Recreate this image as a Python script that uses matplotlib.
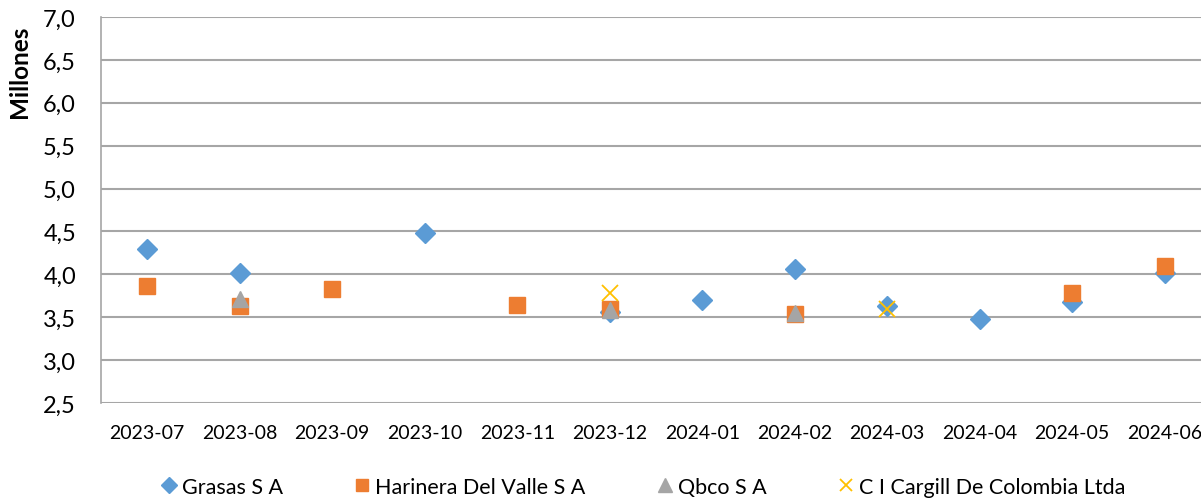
import numpy as np
import matplotlib
matplotlib.use("Agg")
import matplotlib.pyplot as plt

months = ["2023-07", "2023-08", "2023-09", "2023-10", "2023-11", "2023-12",
          "2024-01", "2024-02", "2024-03", "2024-04", "2024-05", "2024-06"]
nan = np.nan
grasas = [4.29, 4.02, nan, 4.48, nan, 3.56, 3.70, 4.06, 3.63, 3.48, 3.68, 4.02]
harinera = [3.86, 3.63, 3.83, nan, 3.64, 3.60, nan, 3.54, nan, nan, 3.78, 4.10]
qbco = [nan, 3.71, nan, nan, nan, 3.58, nan, 3.55, nan, nan, nan, nan]
cargill = [nan, nan, nan, nan, nan, 3.78, nan, nan, 3.60, nan, nan, nan]
series_names = ["Grasas S A", "Harinera Del Valle S A", "Qbco S A",
                "C I Cargill De Colombia Ltda"]
yticks = [2.5, 3.0, 3.5, 4.0, 4.5, 5.0, 5.5, 6.0, 6.5, 7.0]

plt.rcParams['font.family'] = ['Lato', 'DejaVu Sans']

fig = plt.figure(figsize=(12.01, 5.02), dpi=100)
ax = fig.add_axes([101/1201, 1-404/502, 1110/1201, (404-18)/502])

x = np.arange(len(months))
ax.plot(x, grasas, linestyle='none', marker='D', markersize=10.5,
        color='#5B9BD5', label=series_names[0], zorder=3)
ax.plot(x, harinera, linestyle='none', marker='s', markersize=11,
        color='#ED7D31', label=series_names[1], zorder=4)
ax.plot(x, qbco, linestyle='none', marker='^', markersize=12,
        color='#A5A5A5', label=series_names[2], zorder=5)
ax.plot(x, cargill, linestyle='none', marker='x', markersize=11,
        markeredgewidth=1.3, color='#FFC000', label=series_names[3], zorder=6)

ax.set_xlim(-0.5, len(months) - 0.5)
ax.set_ylim(2.5, 7.0)
ax.set_yticks(yticks)
ax.set_yticklabels([f"{v:.1f}".replace('.', ',') for v in yticks], fontsize=17)
ax.set_xticks(x)
ax.set_xticklabels(months, fontsize=14)
ax.tick_params(axis='both', length=0)
ax.tick_params(axis='x', pad=15)
ax.tick_params(axis='y', pad=18)
ax.grid(axis='y', color='#A6A6A6', linewidth=1.5)
ax.set_axisbelow(True)
for s in ['top', 'right', 'bottom']:
    ax.spines[s].set_visible(False)
ax.spines['left'].set_color('#A6A6A6')
ax.spines['left'].set_linewidth(1.2)

fig.text(20/1201, 1-72/502, "Millones", rotation=90, ha='center', va='center',
         fontsize=17.5, fontweight='bold')

leg = fig.legend(loc='center', bbox_to_anchor=(643/1201, 1-488/502), ncol=4,
                 frameon=False, fontsize=15.5, handletextpad=0.2,
                 columnspacing=3.3, handlelength=0.8, markerscale=0.8)

fig.savefig("out.png", dpi=100)
